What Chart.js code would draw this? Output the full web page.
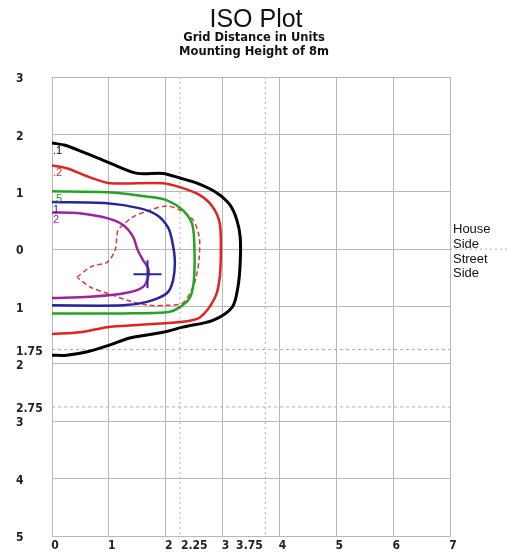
<!DOCTYPE html>
<html><head><meta charset="utf-8">
<script src="https://cdn.jsdelivr.net/npm/chart.js@4.4.0/dist/chart.umd.min.js"></script>
<style>html,body{margin:0;padding:0;background:#fff}canvas{display:block}</style>
</head><body>
<canvas id="c" width="515" height="555"></canvas>
<script>
// ---- data ----
const titleText = 'ISO Plot';
const subtitleLines = ['Grid Distance in Units', 'Mounting Height of 8m'];
const sideLabels = ['House', 'Side', 'Street', 'Side'];
const xTickValues = [0, 1, 2, 2.25, 3, 3.75, 4, 5, 6, 7];
const xTickLabels = ['0', '1', '2', '2.25', '3', '3.75', '4', '5', '6', '7'];
const yTickValues = [3, 2, 1, 0, -1, -1.75, -2, -2.75, -3, -4, -5];
const yTickLabels = ['3', '2', '1', '0', '1', '1.75', '2', '2.75', '3', '4', '5'];
const refX = [2.25, 3.75];
const refY = [-1.75, -2.75];
const sideDividerY = 0;
const contourLabels = ['.1', '.2', '.5', '1', '2'];

const c01x = [0, 0.23, 0.55, 1.02, 1.50, 1.95, 2.25, 2.55, 2.90, 3.13, 3.25, 3.31, 3.31, 3.27, 3.17, 2.83, 2.30, 1.95, 1.37, 1.02, 0.62, 0.26, 0];
const c01y = [1.85, 1.81, 1.69, 1.50, 1.32, 1.32, 1.24, 1.15, 0.98, 0.77, 0.51, 0.21, -0.24, -0.66, -1.01, -1.24, -1.36, -1.45, -1.55, -1.67, -1.79, -1.85, -1.85];
const c02x = [0, 0.26, 0.67, 1.02, 1.95, 2.25, 2.60, 2.83, 2.95, 2.97, 2.95, 2.87, 2.60, 2.25, 1.55, 0.97, 0.49, 0];
const c02y = [1.46, 1.41, 1.25, 1.15, 1.15, 1.08, 0.94, 0.73, 0.45, 0, -0.49, -0.84, -1.19, -1.27, -1.32, -1.36, -1.45, -1.48];
const c05x = [0, 0.97, 1.72, 2.02, 2.30, 2.46, 2.50, 2.50, 2.43, 2.25, 2.02, 1.25, 0];
const c05y = [1.01, 0.99, 0.91, 0.85, 0.68, 0.45, 0.16, -0.49, -0.84, -1.01, -1.10, -1.12, -1.12];
const c1x = [0, 0.97, 1.55, 1.85, 2.04, 2.11, 2.16, 2.13, 2.02, 1.67, 1.25, 0];
const c1y = [0.82, 0.80, 0.71, 0.59, 0.38, 0.16, -0.19, -0.54, -0.77, -0.92, -0.98, -0.98];
const c2x = [0, 0.44, 0.97, 1.25, 1.43, 1.50, 1.60, 1.69, 1.69, 1.60, 1.32, 0.67, 0];
const c2y = [0.64, 0.63, 0.54, 0.42, 0.21, 0, -0.19, -0.33, -0.49, -0.66, -0.76, -0.83, -0.85];
const cMaxX = [0.44, 0.70, 0.97, 1.11, 1.14, 1.16, 1.25, 1.42, 1.72, 2.02, 2.25, 2.48, 2.59, 2.59, 2.55, 2.48, 2.30, 2.02, 1.72, 1.42, 0.97, 0.67, 0.44];
const cMaxY = [-0.49, -0.30, -0.23, -0.02, 0.21, 0.33, 0.42, 0.56, 0.68, 0.75, 0.68, 0.51, 0.21, -0.14, -0.42, -0.66, -0.94, -0.98, -0.98, -0.92, -0.77, -0.66, -0.49];
const crossX = [1.68];
const crossY = [-0.44];

// ---- chart ----
const pts = (xs, ys) => xs.map((v, i) => ({x: v, y: ys[i]}));
const contours = [
  {x: c01x, y: c01y, color: '#000000', w: 3},
  {x: c02x, y: c02y, color: '#e42222', w: 2.5},
  {x: c05x, y: c05y, color: '#22a622', w: 2.5},
  {x: c1x, y: c1y, color: '#2424a4', w: 2.5},
  {x: c2x, y: c2y, color: '#a0229e', w: 2.5}
];
const gridGray = '#b8b8b8';
const dashGray = '#b0b0b0';
const datasets = [];
contours.forEach(c => datasets.push({
  data: pts(c.x, c.y), showLine: true, borderColor: c.color, borderWidth: c.w,
  pointRadius: 0, tension: 0.3, fill: false, order: 2
}));
datasets.push({
  data: pts(cMaxX, cMaxY), showLine: true, borderColor: '#e03a3a', borderWidth: 1.5,
  borderDash: [5, 3], pointRadius: 0, tension: 0.3, fill: false, order: 3
});
datasets.push({
  data: pts(crossX, crossY), showLine: false, pointStyle: 'cross', pointRadius: 14,
  borderColor: '#2424a4', borderWidth: 2, order: 1
});
refX.forEach(v => datasets.push({
  data: [{x: v, y: 3}, {x: v, y: -5}], showLine: true, borderColor: dashGray, borderWidth: 1,
  borderDash: [2, 3], pointRadius: 0, order: 10
}));
refY.forEach(v => datasets.push({
  data: [{x: 0, y: v}, {x: 7, y: v}], showLine: true, borderColor: dashGray, borderWidth: 1,
  borderDash: [3, 3], pointRadius: 0, order: 10
}));
datasets.push({
  data: [{x: 7, y: sideDividerY}, {x: 8.05, y: sideDividerY}], showLine: true, borderColor: dashGray,
  borderWidth: 1, borderDash: [2, 3], pointRadius: 0, order: 10, clip: false
});

const tickFont = {family: "'DejaVu Sans Condensed', 'DejaVu Sans'", size: 12, weight: 'bold'};
const gridColor = ctx => (ctx.tick && Number.isInteger(ctx.tick.value)) ? gridGray : 'rgba(0,0,0,0)';
const sp = n => '\u00a0'.repeat(n);

const extraText = {
  id: 'extraText',
  afterDraw(chart) {
    const ctx = chart.ctx, xs = chart.scales.x, ys = chart.scales.y;
    ctx.save();
    ctx.fillStyle = '#111';
    ctx.textAlign = 'center';
    ctx.textBaseline = 'alphabetic';
    ctx.font = '25px "Liberation Sans"';
    ctx.fillText(titleText, 256, 27);
    ctx.font = 'bold 11.5px "DejaVu Sans"';
    ctx.fillText(subtitleLines[0], 254, 41);
    ctx.fillText(subtitleLines[1], 254, 55);
    ctx.textAlign = 'left';
    ctx.font = '13px "Liberation Sans"';
    const y0 = ys.getPixelForValue(sideDividerY);
    sideLabels.forEach((t, i) => ctx.fillText(t, xs.right + 3, y0 - 16 + i * 14.7));
    ctx.font = '11px "Liberation Sans"';
    ctx.textBaseline = 'top';
    contours.forEach((c, i) => {
      ctx.fillStyle = c.color;
      ctx.fillText(contourLabels[i], xs.getPixelForValue(0) + 1, ys.getPixelForValue(c.y[0]) + 2);
    });
    ctx.restore();
  }
};

new Chart(document.getElementById('c'), {
  type: 'scatter',
  data: {datasets},
  plugins: [extraText],
  options: {
    responsive: false,
    animation: false,
    layout: {padding: {left: 16, right: 65, top: 77, bottom: 0}},
    plugins: {legend: {display: false}, tooltip: {enabled: false}, title: {display: false}},
    scales: {
      x: {
        type: 'linear', min: 0, max: 7,
        afterBuildTicks: s => { s.ticks = xTickValues.map(v => ({value: v})); },
        afterFit: s => { s.height = 19; },
        grid: {color: gridColor, drawTicks: false, lineWidth: 1},
        border: {color: gridGray, width: 1},
        ticks: {
          autoSkip: false, maxRotation: 0, padding: 3, labelOffset: 3, color: '#222', font: tickFont,
          callback: (v) => {
            const i = xTickValues.indexOf(v);
            const lab = i >= 0 ? xTickLabels[i] : '';
            if (v === 2.25) return sp(6) + lab;
            if (v === 3.75) return lab + sp(10);
            return lab;
          }
        }
      },
      y: {
        type: 'linear', min: -5, max: 3,
        afterBuildTicks: s => { s.ticks = yTickValues.map(v => ({value: v})); },
        afterFit: s => { s.width = 36; },
        grid: {color: gridColor, drawTicks: false, lineWidth: 1},
        border: {color: gridGray, width: 1},
        ticks: {
          autoSkip: false, padding: 4, labelOffset: 2, crossAlign: 'far', color: '#222', font: tickFont,
          callback: (v) => { const i = yTickValues.indexOf(v); return i >= 0 ? yTickLabels[i] : ''; }
        }
      }
    }
  }
});
</script>
</body></html>
